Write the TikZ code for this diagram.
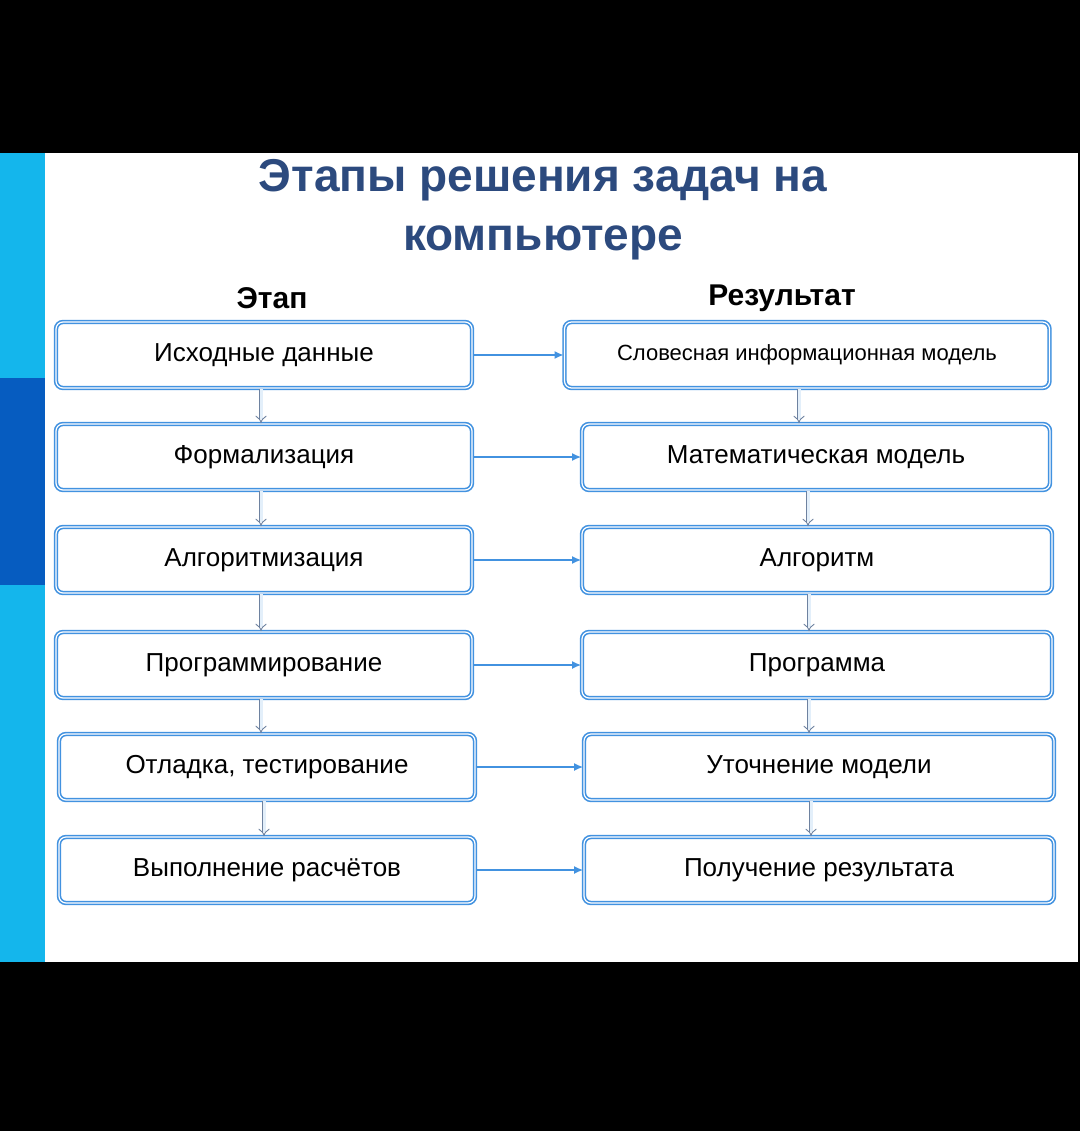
\documentclass[tikz,border=0pt]{standalone}
\usepackage{fontspec}
\setmainfont{Liberation Sans}
\usetikzlibrary{arrows.meta, positioning}
\definecolor{boxblue}{RGB}{66,146,224}
\definecolor{stripcyan}{RGB}{20,182,236}
\definecolor{stripdark}{RGB}{6,92,192}
\definecolor{titleblue}{RGB}{44,74,126}
\definecolor{downgray}{RGB}{110,130,160}

\begin{document}
\begin{tikzpicture}[
        x=1pt, y=-1pt,
        stage/.style={
            rectangle,
            draw=boxblue,
            double=white,
            double distance=1.2pt,
            line width=1.6pt,
            rounded corners=7pt,
            minimum height=66pt,
            font=\fontsize{26}{30}\selectfont,
            align=center
        },
        flow/.style={draw=boxblue, line width=2.2pt, -{Latex[length=9pt,width=8pt]}},
        down/.style={draw=downgray, double=white!85!boxblue, double distance=3pt,
            line width=0.9pt, -{Implies}}
    ]

    % Background
    \fill[black] (0,0) rectangle (1080,1131);
    \fill[white] (0,153) rectangle (1078,962);
    \fill[stripcyan] (0,153) rectangle (45,962);
    \fill[stripdark] (0,378) rectangle (45,585);
    \useasboundingbox (0,0) rectangle (1080,1131);

    % Title
    \node[font=\fontsize{46}{52}\bfseries, text=titleblue] (title1) at (543,180) {Этапы решения задач на};
    \node[font=\fontsize{46}{52}\bfseries, text=titleblue] (title2) at (543,243) {компьютере};
    \node[font=\fontsize{30}{34}\bfseries] (hstage) at (272,298) {Этап};
    \node[font=\fontsize{30}{34}\bfseries] (hresult) at (782,298) {Результат};

    % Stages
    \node[stage, minimum width=416pt] (s1) at (264,355) {Исходные данные};
    \node[stage, minimum width=416pt] (s2) at (264,457) {Формализация};
    \node[stage, minimum width=416pt] (s3) at (264,560) {Алгоритмизация};
    \node[stage, minimum width=416pt] (s4) at (264,665) {Программирование};
    \node[stage, minimum width=416pt] (s5) at (267,767) {Отладка, тестирование};
    \node[stage, minimum width=416pt] (s6) at (267,870) {Выполнение расчётов};

    % Results
    \node[stage, minimum width=485pt, font=\fontsize{22}{26}\selectfont] (r1) at (807,355) {Словесная информационная модель};
    \node[stage, minimum width=468pt] (r2) at (816,457) {Математическая модель};
    \node[stage, minimum width=470pt] (r3) at (817,560) {Алгоритм};
    \node[stage, minimum width=470pt] (r4) at (817,665) {Программа};
    \node[stage, minimum width=470pt] (r5) at (819,767) {Уточнение модели};
    \node[stage, minimum width=470pt] (r6) at (819,870) {Получение результата};

    % Arrows
    \foreach \i in {1,...,6} {
        \draw[flow] (s\i) -- (r\i);
    }
    \foreach \i/\j in {1/2,2/3,3/4,4/5,5/6} {
        \draw[down] (s\i.south) ++(-3,0) coordinate (a) -- (a |- s\j.north);
        \draw[down] (r\i.south) ++(-8,0) coordinate (b) -- (b |- r\j.north);
    }

\end{tikzpicture}
\end{document}
